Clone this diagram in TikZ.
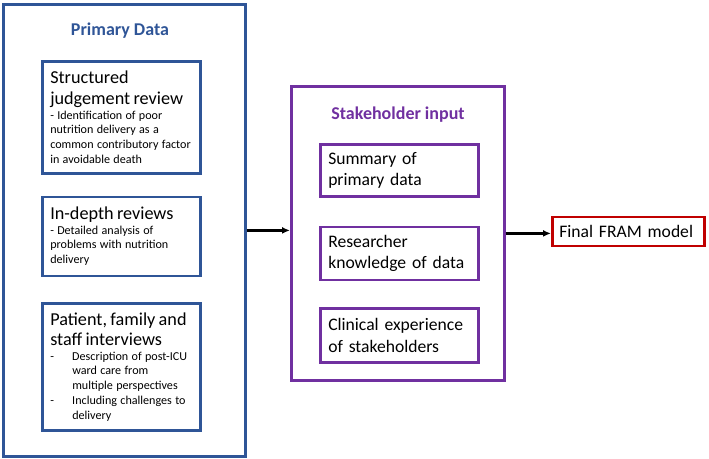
\documentclass[tikz,border=0pt]{standalone}
\usepackage{fontspec}
\setmainfont{Carlito}
\usepackage{tikz}
\usetikzlibrary{positioning,arrows.meta}
\definecolor{pdblue}{HTML}{2F5597}
\definecolor{shpurple}{HTML}{7030A0}
\definecolor{finred}{HTML}{C00000}
\newcommand{\pdhead}{\fontsize{18.2}{20.5}\selectfont}
\newcommand{\pdnote}{\fontsize{12.1}{14.7}\selectfont}
\newcommand{\shtext}{\fontsize{17.6}{21.5}\selectfont}
\newcommand{\frtitle}{\fontsize{18}{21}\selectfont\bfseries}
\newcommand{\dash}{\makebox[22pt][l]{-}}
\newcommand{\hang}{\hspace*{22pt}}

\begin{document}
\begin{tikzpicture}[
    x=1pt, y=-1pt,
    frame/.style={draw, line width=2.8pt, anchor=north west, inner sep=0pt},
    databox/.style={draw=pdblue, line width=2.5pt, text width=142pt, minimum width=158pt, inner sep=8pt, align=left},
    inputbox/.style={draw=shpurple, line width=2.5pt, text width=142pt, minimum width=158pt, minimum height=52pt, inner sep=8pt, align=left, font=\shtext},
    title/.style={font=\frtitle},
    arrow/.style={-{Latex[length=8pt, width=7pt]}, line width=2.2pt}
]
\useasboundingbox (0,0) rectangle (709,458);

% primary data
\node[frame, draw=pdblue, minimum width=242pt, minimum height=452pt] (primary) at (2,3) {};
\node[title, text=pdblue] (primarytitle) at (120,31) {Primary Data};
\node[databox, anchor=north west, minimum height=112pt] (sjr) at (41,60)
  {{\pdhead Structured\\judgement review\par}{\pdnote - Identification of poor\\nutrition delivery as a\\common contributory factor\\in avoidable death\par}};
\node[databox, minimum height=79pt, below=21pt of sjr] (idr)
  {{\pdhead In-depth reviews\par}{\pdnote - Detailed analysis of\\problems with nutrition\\delivery\par}};
\node[databox, minimum height=127pt, below=25pt of idr] (pfs)
  {{\pdhead Patient, family and\\staff interviews\par}{\pdnote \dash Description of post-ICU\\\hang ward care from\\\hang multiple perspectives\\\dash Including challenges to\\\hang delivery\par}};

% stakeholder input
\node[frame, draw=shpurple, minimum width=213pt, minimum height=294pt] (stake) at (290,85) {};
\node[title, text=shpurple] (staketitle) at (398,115) {Stakeholder input};
\node[inputbox, anchor=north west] (summary) at (319,143) {Summary of\\primary data};
\node[inputbox, below=28pt of summary] (knowledge) {Researcher\\knowledge of data};
\node[inputbox, minimum height=54pt, below=26pt of knowledge] (clinical) {Clinical experience\\of stakeholders};

% output
\node[draw=finred, line width=2.5pt, minimum width=152pt, minimum height=29pt, text width=138pt, inner sep=7pt, align=left, anchor=west, font=\shtext] (final) at (551,231.5) {Final FRAM model};

\draw[arrow] (primary.east) -- (primary.east -| stake.west);
\draw[arrow] (stake.east) -- (stake.east -| final.west);
\end{tikzpicture}
\end{document}
